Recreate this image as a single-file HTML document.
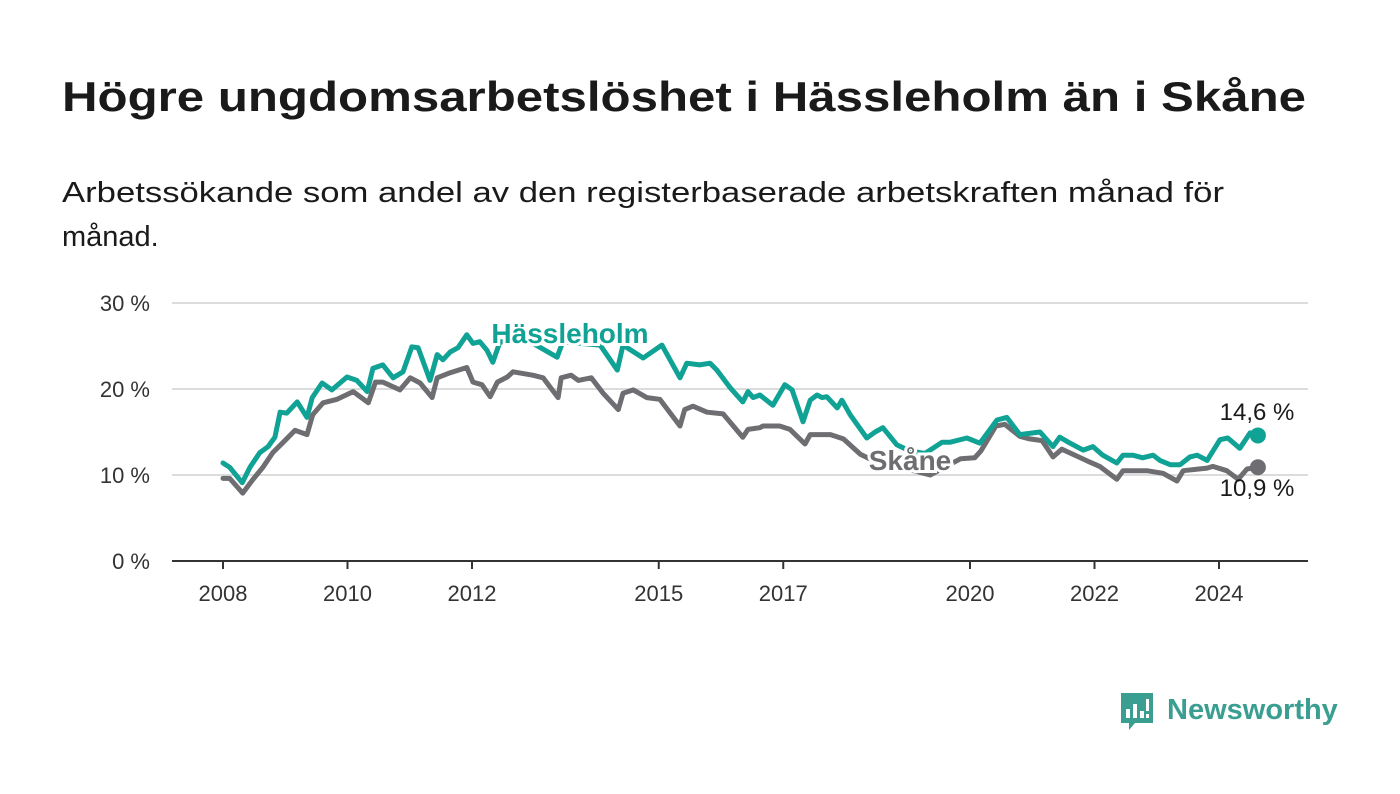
<!DOCTYPE html>
<html><head><meta charset="utf-8"><style>
body{margin:0;background:#fff;}
svg{display:block;font-family:"Liberation Sans",sans-serif;}
</style></head><body>
<svg id="chart" width="1400" height="794" viewBox="0 0 1400 794">
<text x="62" y="111" font-size="42" font-weight="bold" fill="#1a1a1a" textLength="1244" lengthAdjust="spacingAndGlyphs">Högre ungdomsarbetslöshet i Hässleholm än i Skåne</text>
<text x="62" y="202" font-size="29" fill="#1a1a1a" textLength="1162" lengthAdjust="spacingAndGlyphs">Arbetssökande som andel av den registerbaserade arbetskraften månad för</text>
<text x="62" y="246" font-size="29" fill="#1a1a1a">månad.</text>
<g id="grid"></g><g id="xaxis"></g><g id="series"></g><g id="labels"></g>
<g>
<path d="M1121 693h32v30h-18l-6 7v-7h-8z" fill="#3a9e91"/>
<rect x="1126" y="709" width="4" height="9" fill="#fff"/><rect x="1133" y="704" width="4" height="14" fill="#fff"/><rect x="1140" y="711" width="4" height="7" fill="#fff"/><rect x="1146" y="699" width="3" height="12" fill="#fff"/><rect x="1146" y="714" width="3" height="4" fill="#fff"/>
<text x="1167" y="719" font-size="29" font-weight="bold" fill="#3a9e91">Newsworthy</text>
</g>
</svg>
<script>
const months=[0,1.3,3.7,5.2,7.1,8.7,10,11,12.3,14.3,16.2,17.2,19.1,21,23.9,25.8,27.8,28.9,30.8,32.8,34.7,36.4,37.6,39.9,41.3,42.4,43.8,45.3,47,48.2,49.5,50.9,52,53.4,59.2,64.4,65.5,72.7,76,77.1,81,84.6,88.1,89.4,91.9,93.9,95.2,97.7,100.2,101.2,102.2,103.5,106,108.3,109.7,111.8,113.2,114.5,115.5,116.4,118.4,119.3,120.9,124.1,125.7,127.2,129.9,132.4,135.3,138.6,140.1,143.4,145.9,149.2,151.1,153.6,157.5,160,161.3,163.3,165.8,167.7,169.6,172.3,173.5,175.4,177.3,179.3,180.6,182.6,184.5,186.4,187.8,189.7,192.2,193.7,196,198,199.5];
const hassleholm=[11.4,10.9,9.1,10.9,12.6,13.3,14.4,17.3,17.2,18.5,16.7,19,20.7,19.9,21.4,21,19.7,22.4,22.8,21.3,22,24.9,24.8,21,24,23.4,24.3,24.8,26.3,25.3,25.5,24.5,23.1,25.5,25.5,23.7,25.5,25.1,22.2,25.1,23.6,25.1,21.3,23,22.8,23,22.2,20.2,18.5,19.7,19,19.3,18.1,20.5,19.9,16.2,18.7,19.3,19,19.1,17.8,18.7,17,14.3,15,15.5,13.5,12.8,12.5,13.8,13.8,14.3,13.7,16.4,16.7,14.7,15,13.3,14.4,13.7,12.9,13.3,12.3,11.4,12.3,12.3,12,12.3,11.7,11.2,11.2,12.1,12.3,11.7,14.1,14.3,13.1,14.9,14.6];
const monthsSkane=[0,1.3,3.8,5.8,7.7,9.6,11.6,13.9,16.2,17.3,19.3,22,25.1,28,29.4,30.8,34.1,36.1,38,40.3,41.3,43.8,47,48.2,49.9,51.5,52.9,54.8,55.9,59.7,61.7,64.6,65.2,67.1,68.5,71,73.3,76.2,77.1,79.1,81.7,84.2,88.1,89,90.6,93.3,96.4,100.2,101.2,103.5,104.1,107.3,109.3,112.2,113.2,117.1,119.6,122.9,126,130,136.3,142.2,144.9,146.1,149,150.7,153.6,155.5,157.9,160,161.7,164.6,167.1,169,172.3,173.5,178.1,181.2,183.9,185.1,189.7,190.8,193.5,195.7,197.4,199.5];
const skane=[9.6,9.6,7.9,9.5,10.9,12.6,13.8,15.2,14.7,17,18.4,18.8,19.7,18.4,20.8,20.8,19.9,21.3,20.7,19,21.3,21.9,22.5,20.8,20.5,19.1,20.8,21.4,22,21.6,21.3,19,21.3,21.6,21,21.3,19.5,17.6,19.5,19.9,19,18.8,15.7,17.6,18,17.3,17.1,14.4,15.3,15.5,15.7,15.7,15.3,13.6,14.7,14.7,14.2,12.4,11.5,11,10,11.9,12,12.8,15.7,15.9,14.5,14.2,14,12.1,13,12.2,11.5,11,9.5,10.5,10.5,10.2,9.3,10.5,10.8,11,10.5,9.5,10.7,10.9];
const yTicks=[0,10,20,30];
const yTickLabels=["0 %","10 %","20 %","30 %"];
const xTickYears=[2008,2010,2012,2015,2017,2020,2022,2024];
const NS="http://www.w3.org/2000/svg";
const x=m=>223+m*5.1875, xy=yr=>x((yr-2008)*12), y=v=>561-v*8.6;
function mk(tag,attrs,parent,text){const e=document.createElementNS(NS,tag);for(const k in attrs)e.setAttribute(k,attrs[k]);if(text!==undefined)e.textContent=text;parent.appendChild(e);return e;}
const grid=document.getElementById('grid'),xa=document.getElementById('xaxis'),ser=document.getElementById('series'),lab=document.getElementById('labels');
yTicks.forEach((t,i)=>{
 const l=mk('line',{x1:172,x2:1308,y1:y(t),y2:y(t),stroke:t===0?'#333':'#dcdcdc','stroke-width':2},grid);
 
 
 const tx=mk('text',{x:150,y:y(t)+8,'text-anchor':'end','font-size':22,fill:'#333'},grid,yTickLabels[i]);
 
 
});
xTickYears.forEach(yr=>{
 const tk=mk('line',{x1:xy(yr),x2:xy(yr),y1:561,y2:569,stroke:'#333','stroke-width':2},xa);
 
 
 const tx=mk('text',{x:xy(yr),y:601,'text-anchor':'middle','font-size':22,fill:'#333'},xa,String(yr));
 
 
});
function line(ms,vals,color,name){
 const d=ms.map((m,i)=>(i?'L':'M')+x(m).toFixed(1)+' '+y(vals[i]).toFixed(1)).join('');
 const p=mk('path',{d:d,fill:'none',stroke:color,'stroke-width':5,'stroke-linejoin':'round','stroke-linecap':'round'},ser);
 
 
 const n=ms.length-1;
 const c=mk('circle',{cx:x(ms[n]),cy:y(vals[n]),r:8,fill:color},ser);
 
 
}
line(monthsSkane,skane,'#6e6e72','skane');
line(months,hassleholm,'#10a294','hassleholm');
function label(tx,px,py,color,name,anchor,size,bold){
 const t=mk('text',{x:px,y:py,'text-anchor':anchor,'font-size':size,'font-weight':bold?'bold':'normal',fill:color,stroke:'#fff','stroke-width':bold?6:0,'paint-order':'stroke'},lab,tx);
 
 
}
label('Hässleholm',570,343,'#10a294','hassleholm-label','middle',28,true);
label('Skåne',910,470,'#6e6e72','skane-label','middle',28,true);
label(hassleholm[hassleholm.length-1].toFixed(1).replace('.',',')+' %',1257,420,'#1a1a1a','hassleholm-end-value','middle',24,false);
label(skane[skane.length-1].toFixed(1).replace('.',',')+' %',1257,496,'#1a1a1a','skane-end-value','middle',24,false);
</script>
</body></html>
